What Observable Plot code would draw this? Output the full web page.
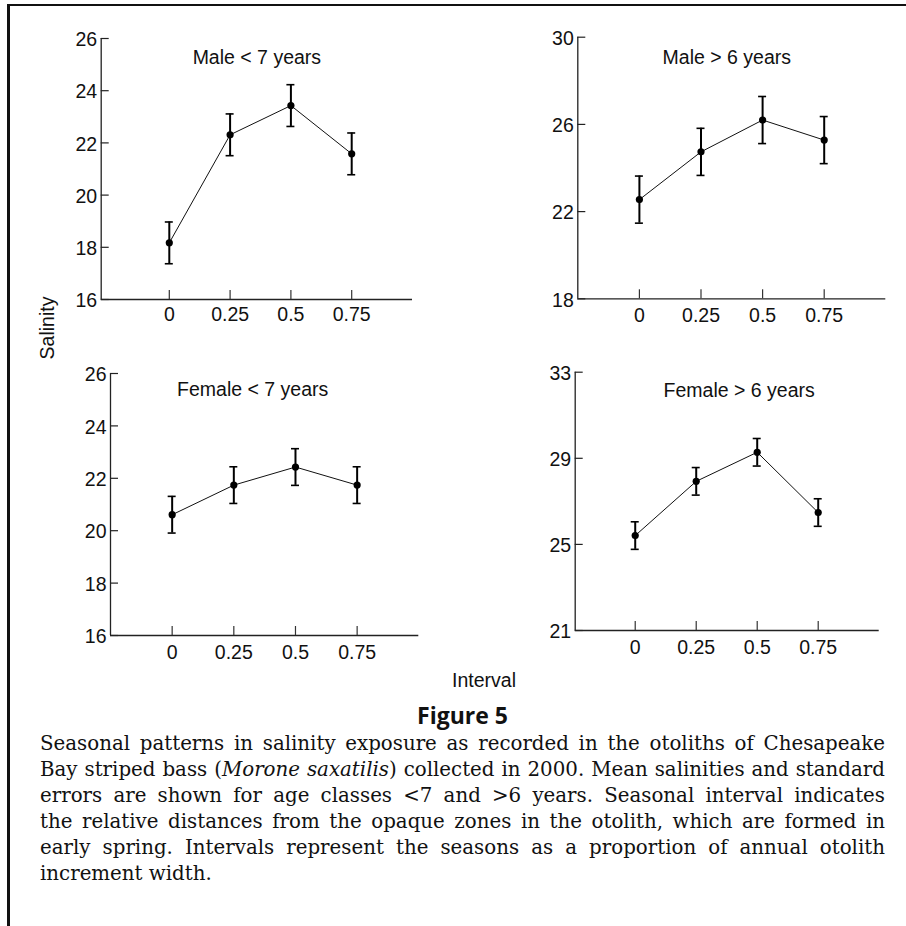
<!DOCTYPE html>
<html>
<head>
<meta charset="utf-8">
<script src="https://cdn.jsdelivr.net/npm/d3@7"></script>
<script src="https://cdn.jsdelivr.net/npm/@observablehq/plot@0.6"></script>
<style>
  body { margin: 0; background: #fff; }
  #page { position: relative; width: 906px; height: 926px; overflow: hidden; background: #fff;
          font-family: "Liberation Sans", Arial, Helvetica, sans-serif; color: #111; }
  #frame { position: absolute; left: 7px; top: 4px; width: 960px; height: 960px;
           border-top: 2px solid #111; border-left: 3px solid #111; }
  .panel { position: absolute; }
  .axlabel { position: absolute; font-size: 19.5px; white-space: nowrap; line-height: 1; }
  #salinity { left: 48px; top: 328px; transform: translate(-50%, -50%) rotate(-90deg); }
  #interval { left: 484px; top: 681px; transform: translate(-50%, -50%); }
  #figtitle { position: absolute; left: 39px; width: 847px; top: 700px; text-align: center;
              font-family: "Open Sans", "Noto Sans", sans-serif; font-weight: 700; font-size: 23px; line-height: 30px; }
  #caption { position: absolute; left: 40px; width: 845px; top: 731px;
             font-family: "DejaVu Serif", serif; font-size: 19.4px; line-height: 26px; color: #111; }
  #caption div { text-align: justify; text-align-last: justify; }
  #caption div.last { text-align-last: left; }
  #measure { position: absolute; visibility: hidden; white-space: nowrap; font-family: "DejaVu Serif", serif; font-size: 20px; }
</style>
</head>
<body>
<div id="page">
  <div id="frame"></div>
  <div id="p0" class="panel"></div>
  <div id="p1" class="panel"></div>
  <div id="p2" class="panel"></div>
  <div id="p3" class="panel"></div>
  <div id="salinity" class="axlabel"></div>
  <div id="interval" class="axlabel"></div>
  <div id="figtitle"></div>
  <div id="caption"></div>
  <div id="measure"></div>
</div>
<script>
// ---- data ----
const intervals = [0, 0.25, 0.5, 0.75];
const intervalLabels = ["0", "0.25", "0.5", "0.75"];
const panelTitles = ["Male < 7 years", "Male > 6 years", "Female < 7 years", "Female > 6 years"];

const maleYoungMean = [18.17, 22.31, 23.43, 21.58];
const maleYoungSE   = [0.80, 0.80, 0.80, 0.80];
const maleOldMean   = [22.55, 24.74, 26.20, 25.28];
const maleOldSE     = [1.08, 1.08, 1.08, 1.08];
const femaleYoungMean = [20.61, 21.74, 22.43, 21.74];
const femaleYoungSE   = [0.70, 0.70, 0.70, 0.70];
const femaleOldMean   = [25.41, 27.93, 29.28, 26.48];
const femaleOldSE     = [0.64, 0.64, 0.64, 0.64];

const yDomains = [[16, 26], [18, 30], [16, 26], [21, 33]];
const yTicksList = [
  [16, 18, 20, 22, 24, 26],
  [18, 22, 26, 30],
  [16, 18, 20, 22, 24, 26],
  [21, 25, 29, 33]
];
const xDomains = [[-0.28, 1.0], [-0.25, 1.0], [-0.25, 1.0], [-0.246, 1.0]];

const yAxisTitle = "Salinity";
const xAxisTitle = "Interval";
const figureTitle = "Figure 5";
const captionLines = [
  "Seasonal patterns in salinity exposure as recorded in the otoliths of Chesapeake",
  "Bay striped bass (<i>Morone saxatilis</i>) collected in 2000. Mean salinities and standard",
  "errors are shown for age classes &lt;7 and &gt;6 years. Seasonal interval indicates",
  "the relative distances from the opaque zones in the otolith, which are formed in",
  "early spring. Intervals represent the seasons as a proportion of annual otolith",
  "increment width."
];

// ---- layout (styles) ----
const layouts = [
  {left: 10,  top: 10,  w: 440, h: 330, ml: 90.7,  mr: 38,   mt: 28,   mb: 41,   tdx: 0,   tdy: 11.7, xpad: 8},
  {left: 450, top: 10,  w: 450, h: 330, ml: 127.3, mr: 14.7, mt: 26.7, mb: 41.7, tdx: -5,  tdy: 13,   xpad: 9},
  {left: 10,  top: 345, w: 440, h: 330, ml: 100,   mr: 31.7, mt: 28,   mb: 40,   tdx: -12, tdy: 9,    xpad: 10},
  {left: 450, top: 345, w: 450, h: 330, ml: 124.7, mr: 21.3, mt: 26.7, mb: 45,   tdx: 12,  tdy: 10.6, xpad: 10}
];

const series = [
  [maleYoungMean, maleYoungSE],
  [maleOldMean, maleOldSE],
  [femaleYoungMean, femaleYoungSE],
  [femaleOldMean, femaleOldSE]
];

const FONT = "'Liberation Sans', Arial, Helvetica, sans-serif";

series.forEach(([mean, se], k) => {
  const L = layouts[k];
  const data = intervals.map((x, i) => ({x, m: mean[i], s: se[i]}));
  const yd = yDomains[k], xd = xDomains[k], yt = yTicksList[k];
  const chart = Plot.plot({
    width: L.w, height: L.h,
    marginLeft: L.ml, marginRight: L.mr, marginTop: L.mt, marginBottom: L.mb,
    style: {background: "transparent", fontFamily: FONT, fontSize: "19.5px", color: "#111", overflow: "visible"},
    x: {domain: xd},
    y: {domain: yd},
    marks: [
      Plot.ruleX([xd[0]], {stroke: "#222", strokeWidth: 1.3}),
      Plot.ruleY([yd[0]], {stroke: "#222", strokeWidth: 1.3}),
      Plot.axisY({ticks: yt, tickSize: -8, fill: "none", stroke: "#222", strokeWidth: 1.2, label: null}),
      Plot.axisY({ticks: yt, tickSize: 0, tickPadding: 4, label: null, fill: "#111", dy: 1.5}),
      Plot.axisX({ticks: intervals, tickSize: -9, fill: "none", stroke: "#333", strokeWidth: 1.2, label: null}),
      Plot.axisX({ticks: intervals, tickSize: 0, tickPadding: L.xpad, label: null, fill: "#111",
                  tickFormat: d => intervalLabels[intervals.indexOf(d)]}),
      Plot.line(data, {x: "x", y: "m", stroke: "#111", strokeWidth: 1}),
      Plot.ruleX(data, {x: "x", y1: d => d.m - d.s, y2: d => d.m + d.s, stroke: "#000", strokeWidth: 2}),
      Plot.ruleY(data, {x1: "x", x2: "x", y: d => d.m + d.s, insetLeft: -4, insetRight: -4, stroke: "#000", strokeWidth: 1.6}),
      Plot.ruleY(data, {x1: "x", x2: "x", y: d => d.m - d.s, insetLeft: -4, insetRight: -4, stroke: "#000", strokeWidth: 1.6}),
      Plot.dot(data, {x: "x", y: "m", r: 3.6, fill: "#000", stroke: "none"}),
      Plot.text([panelTitles[k]], {text: d => d, frameAnchor: "top", dx: L.tdx, dy: L.tdy, fontSize: 19.5, fill: "#111"})
    ]
  });
  const host = document.getElementById("p" + k);
  host.style.left = L.left + "px";
  host.style.top = L.top + "px";
  host.appendChild(chart);
});

document.getElementById("salinity").textContent = yAxisTitle;
document.getElementById("interval").textContent = xAxisTitle;
document.getElementById("figtitle").textContent = figureTitle;

// fit caption font so the widest line just fits the column
const meas = document.getElementById("measure");
let maxW = 0;
captionLines.slice(0, -1).forEach(line => {
  meas.innerHTML = line;
  maxW = Math.max(maxW, meas.getBoundingClientRect().width);
});
meas.remove();
const cap = document.getElementById("caption");
if (maxW > 0) cap.style.fontSize = Math.min(21, 20 * 838 / maxW).toFixed(2) + "px";
captionLines.forEach((line, i) => {
  const d = document.createElement("div");
  d.innerHTML = line;
  if (i === captionLines.length - 1) d.className = "last";
  cap.appendChild(d);
});
</script>
</body>
</html>
